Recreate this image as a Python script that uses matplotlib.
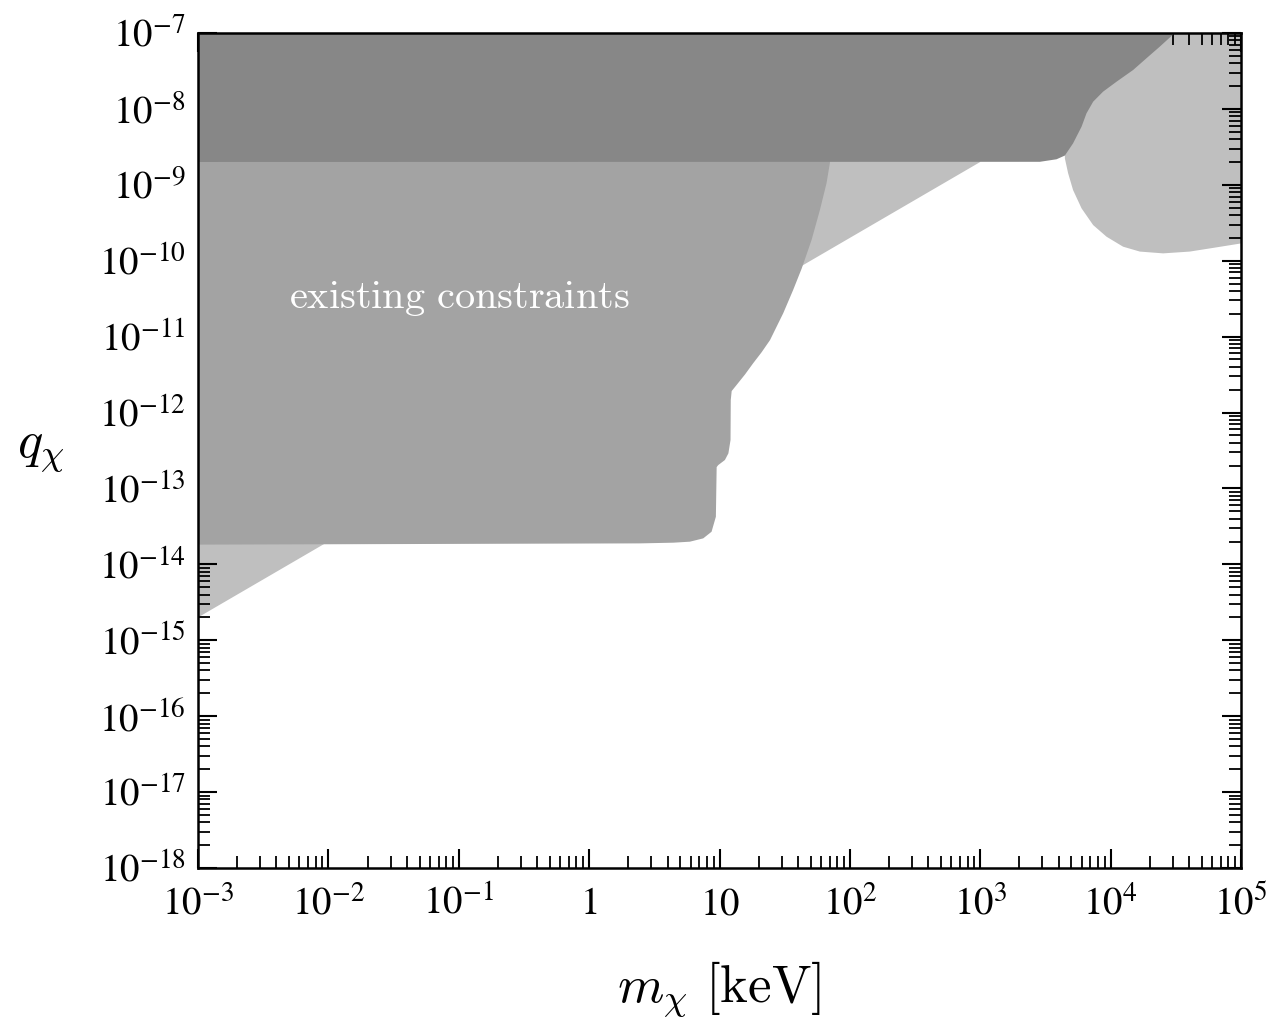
import numpy as np
import matplotlib
matplotlib.use('Agg')
import matplotlib.pyplot as plt
from matplotlib.ticker import FixedLocator, FixedFormatter, LogLocator, NullFormatter

plt.rcParams['font.family'] = 'serif'
plt.rcParams['font.serif'] = ['Liberation Serif', 'DejaVu Serif']
plt.rcParams['mathtext.fontset'] = 'stix'

# ---------------- data ----------------
m_min, m_max = 1e-3, 1e5
q_min, q_max = 1e-18, 1e-7

x_ticks = [1e-3, 1e-2, 1e-1, 1, 10, 1e2, 1e3, 1e4, 1e5]
x_tick_labels = [r'$10^{-3}$', r'$10^{-2}$', r'$10^{-1}$', r'$1$', r'$10$',
                 r'$10^{2}$', r'$10^{3}$', r'$10^{4}$', r'$10^{5}$']
y_ticks = [1e-18, 1e-17, 1e-16, 1e-15, 1e-14, 1e-13, 1e-12, 1e-11,
           1e-10, 1e-9, 1e-8, 1e-7]
y_tick_labels = [r'$10^{-18}$', r'$10^{-17}$', r'$10^{-16}$', r'$10^{-15}$',
                 r'$10^{-14}$', r'$10^{-13}$', r'$10^{-12}$', r'$10^{-11}$',
                 r'$10^{-10}$', r'$10^{-9}$', r'$10^{-8}$', r'$10^{-7}$']

# light grey diagonal bound (excluded above the line)
light_line_m = [1e-3, 1e3]
light_line_q = [2e-15, 2e-9]

# light grey region at high mass (boundary from the dark band down to right edge)
blob_m = [4457, 4721, 5152, 5984, 7345, 9311, 12474, 16749, 25293, 40458, 64863, 1e5]
blob_q = [2.23e-9, 1.42e-9, 8.53e-10, 4.90e-10, 2.95e-10, 2.07e-10, 1.53e-10,
          1.32e-10, 1.25e-10, 1.32e-10, 1.50e-10, 1.69e-10]

# medium grey "existing constraints" region boundary (top right -> bottom left)
medium_m = [70.3, 66.2, 58.9, 50.8, 42.7, 36.7, 30.8, 27.4, 24.4, 21.0, 18.1,
            15.7, 13.5, 12.4, 12.2, 12.15, 11.7, 11.0, 9.77, 9.51, 9.38, 8.69,
            7.50, 5.93, 4.42, 2.45, 1e-3]
medium_q = [1.95e-9, 1.05e-9, 4.66e-10, 1.87e-10, 7.9e-11, 4.11e-11, 2.03e-11,
            1.35e-11, 9.0e-12, 6.2e-12, 4.45e-12, 3.18e-12, 2.30e-12, 1.92e-12,
            1.46e-12, 4.35e-13, 2.90e-13, 2.37e-13, 2.03e-13, 1.91e-13, 4.24e-14,
            2.69e-14, 2.20e-14, 1.99e-14, 1.93e-14, 1.89e-14, 1.82e-14]

# dark grey band (lower boundary, left -> right, then up to top)
dark_m = [1e-3, 2864, 3846, 4457, 5152, 5984, 6531, 7345, 8750, 11092, 14894,
          18836, 23823, 31046]
dark_q = [2.0e-9, 2.01e-9, 2.17e-9, 2.43e-9, 3.52e-9, 5.83e-9, 8.75e-9,
          1.245e-8, 1.687e-8, 2.28e-8, 3.26e-8, 4.65e-8, 6.61e-8, 1e-7]

label_text = r'$\mathrm{existing\ constraints}$'
label_m, label_q = 0.101, 2.38e-11

c_light = '#bfbfbf'
c_medium = '#a3a3a3'
c_dark = '#878787'

# ---------------- figure ----------------
fig = plt.figure(figsize=(12.75, 10.21), dpi=100)
ax = fig.add_axes([198/1275, 1 - 868/1021, (1241-198)/1275, (868-33)/1021])
ax.set_xscale('log')
ax.set_yscale('log')
ax.set_xlim(m_min, m_max)
ax.set_ylim(q_min, q_max)

# light diagonal region
ax.fill(light_line_m + [light_line_m[-1], light_line_m[0]],
        light_line_q + [q_max, q_max], color=c_light, lw=0, zorder=1)
# light blob at high mass
ax.fill(blob_m + [m_max, blob_m[0]], blob_q + [q_max, q_max],
        color=c_light, lw=0, zorder=1)
# medium region
ax.fill(medium_m + [medium_m[-1], medium_m[0]], medium_q + [q_max, q_max],
        color=c_medium, lw=0, zorder=2)
# dark band
ax.fill(dark_m + [dark_m[0]], dark_q + [q_max], color=c_dark, lw=0, zorder=3)

ax.text(label_m, label_q, label_text, color='white',
        fontsize=29, ha='center', va='baseline', math_fontfamily='cm', zorder=4)

# ticks
ax.xaxis.set_major_locator(FixedLocator(x_ticks))
ax.xaxis.set_major_formatter(FixedFormatter(x_tick_labels))
ax.yaxis.set_major_locator(FixedLocator(y_ticks))
ax.yaxis.set_major_formatter(FixedFormatter(y_tick_labels))
ax.xaxis.set_minor_locator(LogLocator(base=10, subs=np.arange(2, 10), numticks=100))
ax.yaxis.set_minor_locator(LogLocator(base=10, subs=np.arange(2, 10), numticks=100))
ax.xaxis.set_minor_formatter(NullFormatter())
ax.yaxis.set_minor_formatter(NullFormatter())
ax.tick_params(which='both', direction='in', top=True, right=True,
               labelsize=28, color='black')
ax.tick_params(which='major', length=14, width=1.5)
ax.tick_params(which='minor', length=8.5, width=1.3)
ax.tick_params(axis='x', which='major', pad=13)
ax.tick_params(axis='y', which='major', pad=9)
for sp in ax.spines.values():
    sp.set_linewidth(1.8)
    sp.set_zorder(5)

ax.set_xlabel(r'$m_\chi\ [\mathrm{keV}]$', fontsize=38, math_fontfamily='cm',
              va='center')
ax.xaxis.set_label_coords(0.5, -0.146)
ax.set_ylabel(r'$q_\chi$', fontsize=38, math_fontfamily='cm', rotation=0,
              va='center', ha='center')
ax.yaxis.set_label_coords(-0.151, 0.5)

fig.savefig('out.png', dpi=100)
